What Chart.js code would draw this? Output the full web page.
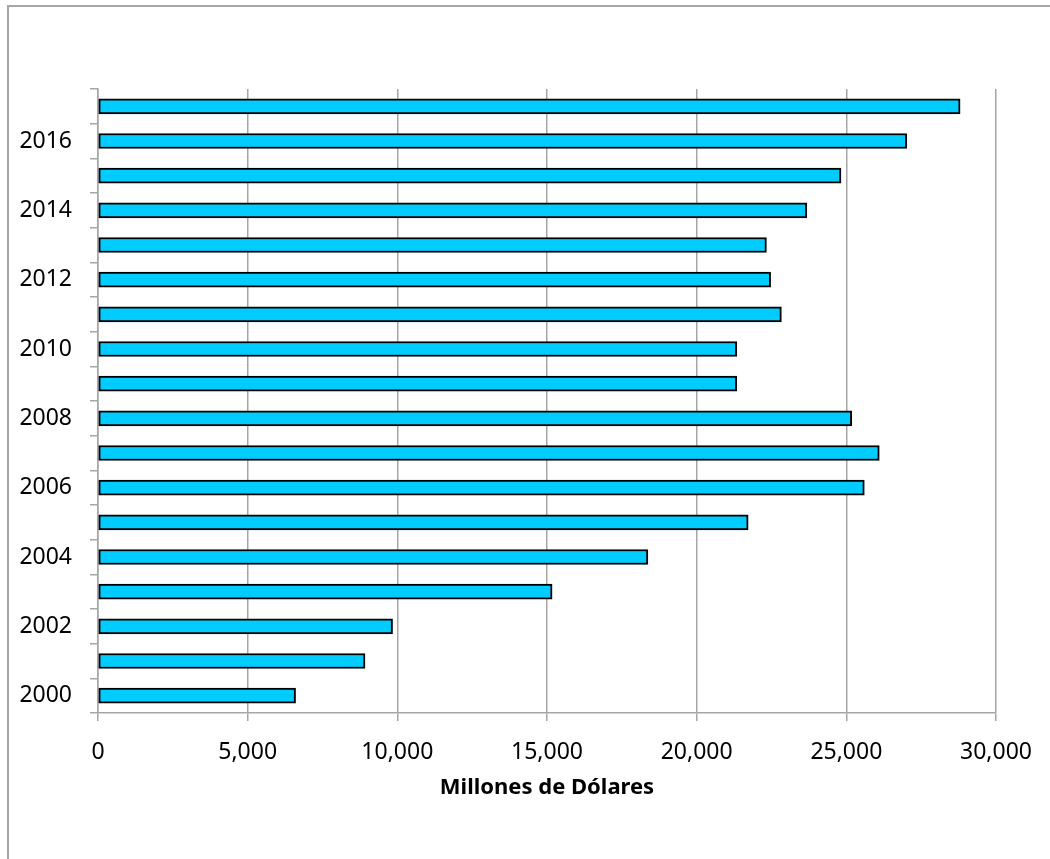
<!DOCTYPE html>
<html>
<head>
<meta charset="utf-8">
<script src="https://cdn.jsdelivr.net/npm/chart.js@4/dist/chart.umd.min.js"></script>
<style>
  html, body { margin: 0; padding: 0; background: #fff; }
  #frame {
    position: absolute; left: 7px; top: 5px; right: 0; bottom: 0;
    border-left: 2px solid #a6a6a6; border-top: 2px solid #a6a6a6;
  }
  #wrap { position: absolute; left: 0; top: 0; width: 1050px; height: 859px; }
</style>
</head>
<body>
<div id="frame"></div>
<div id="wrap"><canvas id="chart" width="1050" height="859"></canvas></div>
<script>
var YEARS = ['2000', '2001', '2002', '2003', '2004', '2005', '2006', '2007', '2008',
             '2009', '2010', '2011', '2012', '2013', '2014', '2015', '2016', '2017'];
var VALUES = [6600, 8920, 9840, 15170, 18370, 21720, 25600, 26100, 25180,
              21340, 21340, 22830, 22470, 22330, 23680, 24820, 27020, 28800];
var X_MIN = 0, X_MAX = 30000, X_STEP = 5000;
var X_TITLE = 'Millones de Dólares';

var FONT = "'Noto Sans', 'Open Sans', sans-serif";
var GRID = '#a6a6a6';

var ctx = document.getElementById('chart').getContext('2d');
new Chart(ctx, {
    type: 'bar',
    data: {
        labels: YEARS,
        datasets: [{
            data: VALUES,
            backgroundColor: '#00ccff',
            borderColor: '#000000',
            borderWidth: 2,
            borderSkipped: false,
            barThickness: 15
        }]
    },
    options: {
        indexAxis: 'y',
        responsive: false,
        animation: false,
        layout: { padding: { top: 89, right: 50, bottom: 0, left: 0 } },
        plugins: { legend: { display: false }, tooltip: { enabled: false } },
        scales: {
            x: {
                min: X_MIN,
                max: X_MAX,
                afterFit: function(s) { s.height = 146; },
                ticks: {
                    stepSize: X_STEP,
                    color: '#000',
                    padding: 18,
                    font: { family: FONT, size: 23 },
                    callback: function(v) { return v.toLocaleString('en-US'); }
                },
                grid: { color: GRID, lineWidth: 1.5, tickLength: 8 },
                border: { color: GRID, width: 1.5 },
                title: {
                    display: true,
                    text: X_TITLE,
                    color: '#000',
                    font: { family: FONT, size: 22, weight: 'bold' },
                    padding: { top: 0, bottom: 58 }
                }
            },
            y: {
                reverse: true,
                afterFit: function(s) { s.width = 98; },
                ticks: {
                    autoSkip: false,
                    color: '#000',
                    padding: 18,
                    font: { family: FONT, size: 23 },
                    // only even years are labelled
                    callback: function(v, i) { return i % 2 === 0 ? YEARS[i] : ''; }
                },
                grid: { drawOnChartArea: false, color: GRID, lineWidth: 1.5, tickLength: 8 },
                border: { color: GRID, width: 1.5 }
            }
        }
    }
});
</script>
</body>
</html>
